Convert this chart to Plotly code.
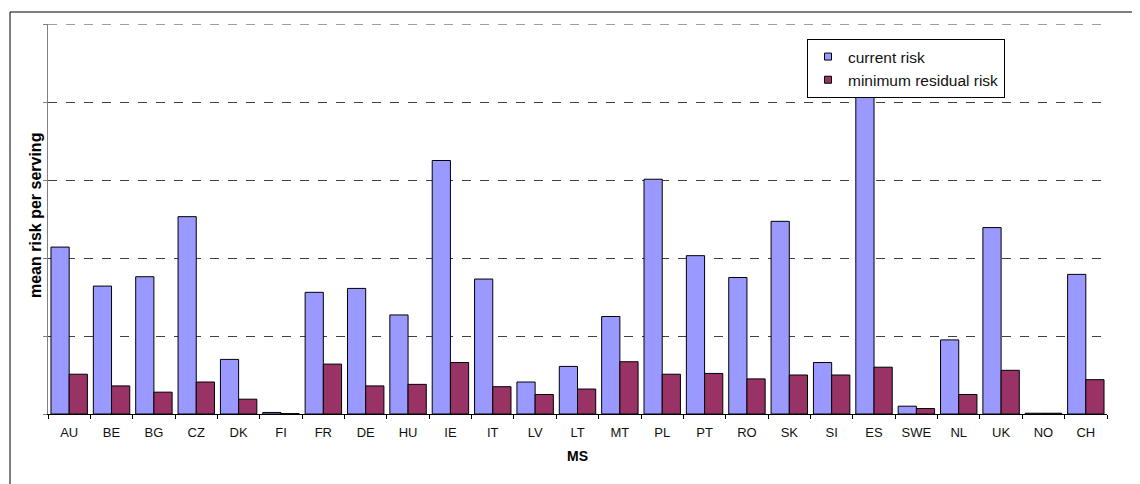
import plotly.graph_objects as go

categories = ["AU", "BE", "BG", "CZ", "DK", "FI", "FR", "DE", "HU", "IE", "IT", "LV", "LT",
              "MT", "PL", "PT", "RO", "SK", "SI", "ES", "SWE", "NL", "UK", "NO", "CH"]
current_risk = [2.14, 1.64, 1.76, 2.53, 0.70, 0.02, 1.56, 1.61, 1.27, 3.25, 1.73, 0.41, 0.61,
                1.25, 3.01, 2.03, 1.75, 2.47, 0.66, 4.25, 0.10, 0.95, 2.39, 0.01, 1.79]
min_residual_risk = [0.51, 0.36, 0.28, 0.41, 0.19, 0.005, 0.64, 0.36, 0.38, 0.66, 0.35, 0.25, 0.32,
                     0.67, 0.51, 0.52, 0.45, 0.50, 0.50, 0.60, 0.07, 0.25, 0.56, 0.01, 0.44]
series_names = ["current risk", "minimum residual risk"]
series_colors = ["#9999FF", "#993366"]
y_max = 5

# page body has an 8px margin; figure coordinates are page coordinates minus 8
OFF = 8
W, H = 1140 - OFF, 484 - OFF
L, T = 48 - OFF, 24 - OFF
PR, PB = 1107 - OFF, 414 - OFF
R, B = W - PR, H - PB
pw, ph = PR - L, PB - T

font = "Liberation Sans, Arial, sans-serif"

def px_x(x):
    return (x - OFF - L) / pw

def px_y(y):
    return (PB - (y - OFF)) / ph

fig = go.Figure()
for name, vals, col in zip(series_names, [current_risk, min_residual_risk], series_colors):
    fig.add_trace(go.Bar(x=categories, y=vals, name=name, showlegend=False,
                         marker=dict(color=col, line=dict(color="black", width=1))))
# legend entries with small square swatches
for name, col in zip(series_names, series_colors):
    fig.add_trace(go.Scatter(x=[None], y=[None], mode="markers", name=name,
                             marker=dict(symbol="square", size=7, color=col,
                                         line=dict(color="black", width=1))))

fig.update_layout(
    width=W, height=H,
    margin=dict(l=L, r=R, t=T, b=B, autoexpand=False),
    paper_bgcolor="white", plot_bgcolor="white",
    barmode="group", bargap=0.14, bargroupgap=0,
    font=dict(family=font, size=13, color="black"),
    showlegend=True,
    legend=dict(x=px_x(807), y=px_y(39), xanchor="left", yanchor="top",
                bgcolor="white", bordercolor="black", borderwidth=1,
                font=dict(size=15.5, family=font, color="#111"), itemwidth=30,
                tracegroupgap=0),
    xaxis=dict(showline=True, linecolor="black", linewidth=1,
               ticks="outside", tickson="boundaries", ticklen=4, tickcolor="black",
               showgrid=False, tickfont=dict(size=13, color="#111"),
               ticklabelstandoff=6, automargin=False,
               title=dict(text="<b>MS</b>", font=dict(size=14), standoff=12)),
    yaxis=dict(range=[0, y_max], dtick=1, showticklabels=False, showline=True,
               linecolor="#808080", linewidth=1, ticks="outside", ticklen=4,
               tickcolor="#808080", showgrid=True, gridcolor="#404040",
               griddash="dash", gridwidth=1, zeroline=False, automargin=False),
)

# top gridline at the range maximum (plotly omits it at the edge)
fig.add_shape(type="line", xref="paper", yref="y", x0=0, x1=1, y0=y_max, y1=y_max,
              line=dict(color="#404040", width=1, dash="dash"), layer="below")

fig.add_annotation(text="<b>mean risk per serving</b>", xref="paper", yref="paper",
                   x=px_x(35), y=px_y(216), textangle=-90,
                   showarrow=False, font=dict(size=16, family=font, color="black"),
                   xanchor="center", yanchor="middle")

# outer frame of the chart area
fig.add_shape(type="rect", xref="paper", yref="paper",
              x0=px_x(10), x1=px_x(1160),
              y0=px_y(500), y1=px_y(12),
              line=dict(color="black", width=1), layer="below")

fig.write_html("out.html")
